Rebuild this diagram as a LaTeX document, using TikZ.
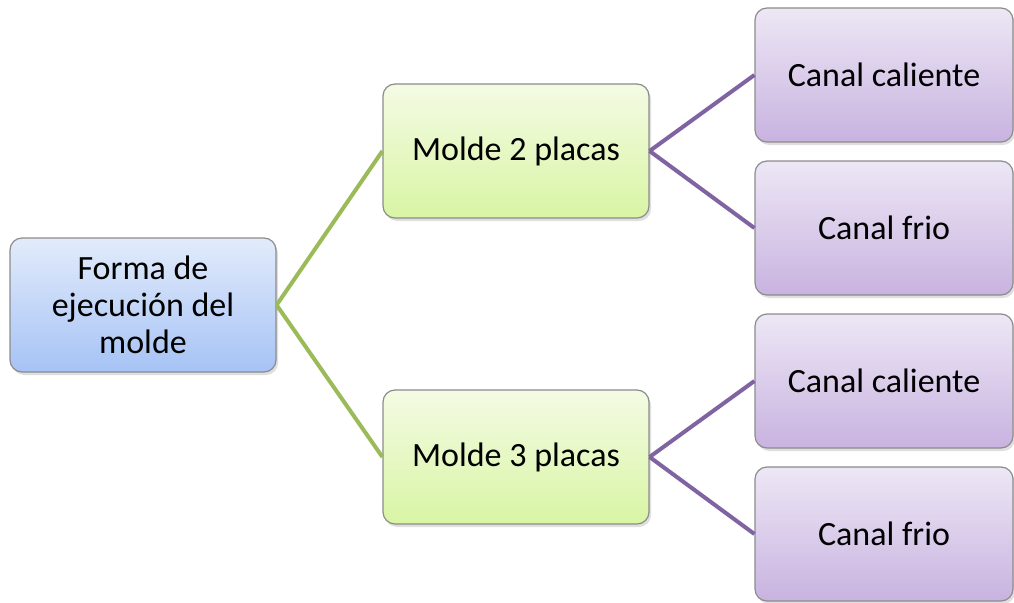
\documentclass[tikz,border=0pt]{standalone}
\usepackage{fontspec}
\setmainfont{Carlito}
\usetikzlibrary{shadows}
\definecolor{boxline}{HTML}{8C8C8C}
\definecolor{bluetop}{HTML}{E2EBFB}
\definecolor{bluebot}{HTML}{A6C3F5}
\definecolor{greentop}{HTML}{F4FBE4}
\definecolor{greenbot}{HTML}{D8F5A4}
\definecolor{purptop}{HTML}{EDE7F5}
\definecolor{purpbot}{HTML}{C8B3E0}
\definecolor{greenline}{HTML}{9BBB59}
\definecolor{purpline}{HTML}{8064A2}
\tikzset{
  basebox/.style={draw=boxline, line width=1.2pt, rounded corners=12pt, align=center,
    font=\fontsize{34}{37}\selectfont, text=black, inner sep=0pt,
    drop shadow={shadow xshift=2pt, shadow yshift=-3pt, opacity=0.25}},
  rootbox/.style={basebox, top color=bluetop, bottom color=bluebot, minimum width=266pt, minimum height=134pt},
  midbox/.style={basebox, top color=greentop, bottom color=greenbot, minimum width=266pt, minimum height=134pt},
  leafbox/.style={basebox, top color=purptop, bottom color=purpbot, minimum width=258pt, minimum height=134pt},
  greenlink/.style={draw=greenline, line width=4pt},
  purplink/.style={draw=purpline, line width=4pt}
}
\begin{document}
\begin{tikzpicture}[x=1pt,y=-1pt]
\useasboundingbox (0,0) rectangle (1014,602);
\node[rootbox] (root) at (143,305) {Forma de\\ejecución del\\molde};
\node[midbox] (m2) at (516,151) {Molde 2 placas};
\node[midbox] (m3) at (516,457) {Molde 3 placas};
\node[leafbox] (c1) at (884,75) {Canal caliente};
\node[leafbox] (c2) at (884,228) {Canal frio};
\node[leafbox] (c3) at (884,381) {Canal caliente};
\node[leafbox] (c4) at (884,534) {Canal frio};
\draw[greenlink] (root.east) -- (m2.west);
\draw[greenlink] (root.east) -- (m3.west);
\draw[purplink] (m2.east) -- (c1.west);
\draw[purplink] (m2.east) -- (c2.west);
\draw[purplink] (m3.east) -- (c3.west);
\draw[purplink] (m3.east) -- (c4.west);
\end{tikzpicture}
\end{document}
